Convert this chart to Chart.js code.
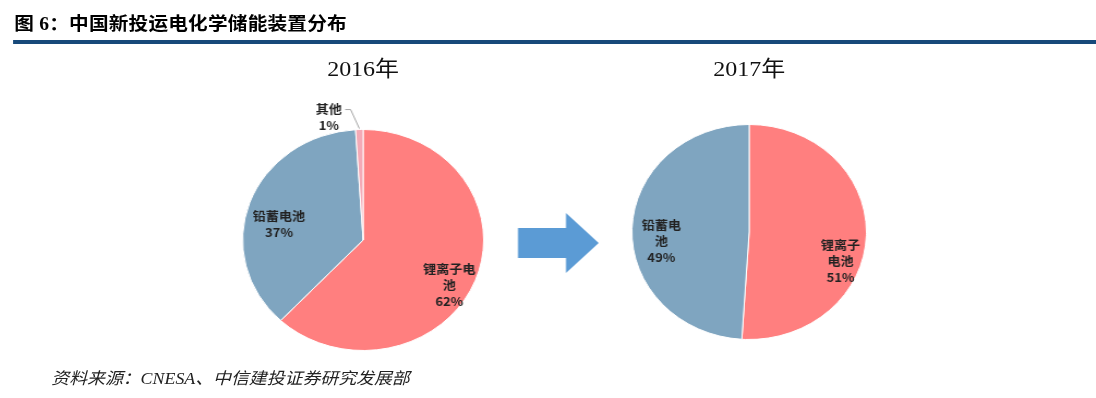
<!DOCTYPE html>
<html>
<head>
<meta charset="utf-8">
<script src="https://cdn.jsdelivr.net/npm/chart.js"></script>
<style>
  html, body { margin: 0; padding: 0; background: #fff; }
  body { width: 1096px; height: 398px; overflow: hidden; }
  /* the source picture is stretched sideways, so the whole frame is scaled */
  #marco { position: absolute; left: 0; top: 0; width: 1005px; height: 398px;
           transform: scaleX(1.0905); transform-origin: 0 0; }
  #titulo { position: absolute; left: 13px; top: 9px; font: bold 18px "Liberation Serif", "Noto Sans CJK SC", sans-serif;
            color: #000; white-space: nowrap; letter-spacing: 0.2px; }
  #regla { position: absolute; left: 12px; top: 40px; width: 1000px; height: 4px; background: #17497a; }
  .anio { position: absolute; top: 50px; width: 120px; text-align: center; color: #111;
          font: 22px "Liberation Serif", "Noto Sans CJK SC", serif; }
  .lienzo { position: absolute; }
  #fuente { position: absolute; left: 47px; top: 365px; white-space: nowrap; color: #222;
            font: italic 16.4px "Liberation Serif", "Noto Sans CJK SC", serif; }
  #flecha { position: absolute; left: 470px; top: 205px; }
</style>
</head>
<body>
<div id="marco">
  <div id="titulo">图 6：中国新投运电化学储能装置分布</div>
  <div id="regla"></div>
  <div class="anio" style="left:273px">2016年</div>
  <div class="anio" style="left:627px">2017年</div>
  <canvas id="pie2016" class="lienzo" width="300" height="280" style="left:183px;top:100px;width:300px;height:280px"></canvas>
  <canvas id="pie2017" class="lienzo" width="300" height="280" style="left:537px;top:92px;width:300px;height:280px"></canvas>
  <svg id="flecha" width="90" height="80">
    <polygon points="5,23 49,23 49,8 79,38 49,68 49,53 5,53" fill="#5b9bd5"/>
  </svg>
  <div id="fuente">资料来源：CNESA、中信建投证券研究发展部</div>
</div>
<script>
// --- Datos ---
const categorias2016 = ["锂离子电池", "铅蓄电池", "其他"];
const valores2016 = [62, 37, 1];
const categorias2017 = ["锂离子电池", "铅蓄电池"];
const valores2017 = [51, 49];

// how each category name is wrapped inside its slice
const lineas2016 = [["锂离子电", "池"], ["铅蓄电池"], ["其他"]];
const lineas2017 = [["锂离子", "电池"], ["铅蓄电", "池"]];

const colores2016 = ["#ff7f7f", "#7fa5c0", "#f4aab6"];
const colores2017 = ["#ff7f7f", "#7fa5c0"];

// --- Plugin de etiquetas ---
const etiquetasSectores = {
    id: "etiquetasSectores",
    afterDatasetsDraw(chart, args, opts) {
        const ctx = chart.ctx;
        const meta = chart.getDatasetMeta(0);
        const valores = chart.data.datasets[0].data;
        ctx.save();
        ctx.font = "bold 12px 'Noto Sans CJK SC', sans-serif";
        ctx.fillStyle = "#222";
        ctx.textAlign = "center";
        ctx.textBaseline = "middle";
        meta.data.forEach(function (arco, i) {
            const p = arco.getProps(["x", "y", "startAngle", "endAngle", "outerRadius"], true);
            const medio = (p.startAngle + p.endAngle) / 2;
            const ajuste = opts.ajustes[i] || { r: 0.75, dx: 0, dy: 0 };
            const cx = p.x + Math.cos(medio) * p.outerRadius * ajuste.r + ajuste.dx;
            const cy = p.y + Math.sin(medio) * p.outerRadius * ajuste.r + ajuste.dy;
            const lineas = opts.lineas[i].concat([valores[i] + "%"]);
            const alto = 16;
            const y0 = cy - (lineas.length - 1) * alto / 2;
            lineas.forEach(function (t, k) {
                ctx.fillText(t, cx, y0 + k * alto);
            });
            if (ajuste.guia) {
                const ancho = ctx.measureText(lineas[0]).width;
                const ex = p.x + Math.cos(medio) * p.outerRadius;
                const ey = p.y + Math.sin(medio) * p.outerRadius;
                ctx.strokeStyle = "#a6a6a6";
                ctx.lineWidth = 1;
                ctx.beginPath();
                ctx.moveTo(cx + ancho / 2 + 3, y0);
                ctx.lineTo(cx + ancho / 2 + 8, y0);
                ctx.lineTo(ex, ey - 1);
                ctx.stroke();
            }
        });
        ctx.restore();
    }
};

function crearPastel(id, categorias, valores, colores, lineas, ajustes, radio) {
    const lado = 2 * radio;
    new Chart(document.getElementById(id), {
        type: "pie",
        data: {
            labels: categorias,
            datasets: [{
                data: valores,
                backgroundColor: colores,
                borderColor: "#ffffff",
                borderWidth: 1
            }]
        },
        options: {
            responsive: false,
            animation: false,
            layout: {
                padding: {
                    left: (300 - lado) / 2, right: (300 - lado) / 2,
                    top: (280 - lado) / 2, bottom: (280 - lado) / 2
                }
            },
            plugins: {
                legend: { display: false },
                tooltip: { enabled: false },
                etiquetasSectores: { lineas: lineas, ajustes: ajustes }
            }
        },
        plugins: [etiquetasSectores]
    });
}

crearPastel("pie2016", categorias2016, valores2016, colores2016, lineas2016, [
    { r: 0.75, dx: 2, dy: 15 },
    { r: 0.8, dx: 6, dy: 14 },
    { r: 1.0, dx: -28, dy: -12, guia: true }
], 111);

crearPastel("pie2017", categorias2017, valores2017, colores2017, lineas2017, [
    { r: 0.78, dx: 0, dy: 27 },
    { r: 0.75, dx: 0, dy: 12 }
], 108);
</script>
</body>
</html>
